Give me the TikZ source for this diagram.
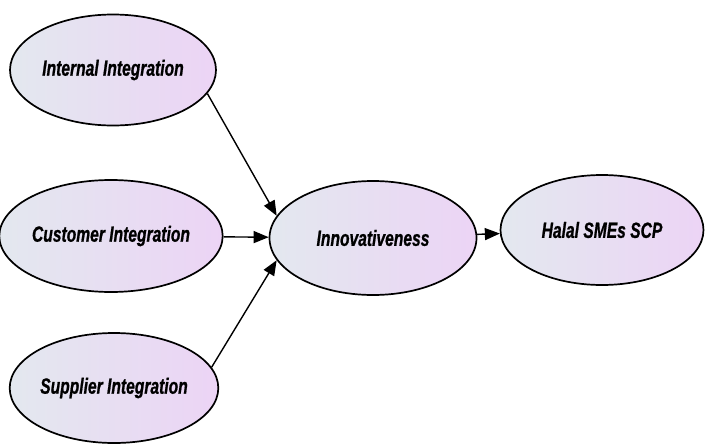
\documentclass[tikz,border=0pt]{standalone}
\usepackage{fontspec}
\setmainfont{Liberation Sans}[FakeStretch=0.71,FakeBold=0.8]
\usetikzlibrary{arrows.meta,shapes.geometric}
\definecolor{lc}{RGB}{227,232,239}
\definecolor{rc}{RGB}{236,212,245}
\begin{document}
\begin{tikzpicture}[x=1pt,y=-1pt,
  construct/.style={ellipse,draw=black,line width=1.7pt,left color=lc,right color=rc,
    inner sep=0pt,font=\fontsize{22}{24}\selectfont\bfseries\itshape},
  link/.style={line width=1.4pt,-{Triangle[length=15pt,width=12pt]}}]
\useasboundingbox (0,0) rectangle (705,445);
\node[construct,minimum width=206pt,minimum height=111pt] (int) at (113,70) {Internal Integration};
\node[construct,minimum width=206pt,minimum height=112pt] (cus) at (111,236) {Customer Integration};
\node[construct,minimum width=206pt,minimum height=110pt] (sup) at (114,388) {Supplier Integration};
\node[construct,minimum width=207pt,minimum height=114pt] (inn) at (373,238) {Innovativeness};
\node[construct,minimum width=203pt,minimum height=110pt] (hal) at (602,230) {Halal SMEs SCP};
\draw[link] (int.-14) -- (inn.167);
\draw[link] (cus) -- (inn);
\draw[link] (sup.12) -- (inn.-167);
\draw[link] (inn) -- (hal);
\end{tikzpicture}
\end{document}
